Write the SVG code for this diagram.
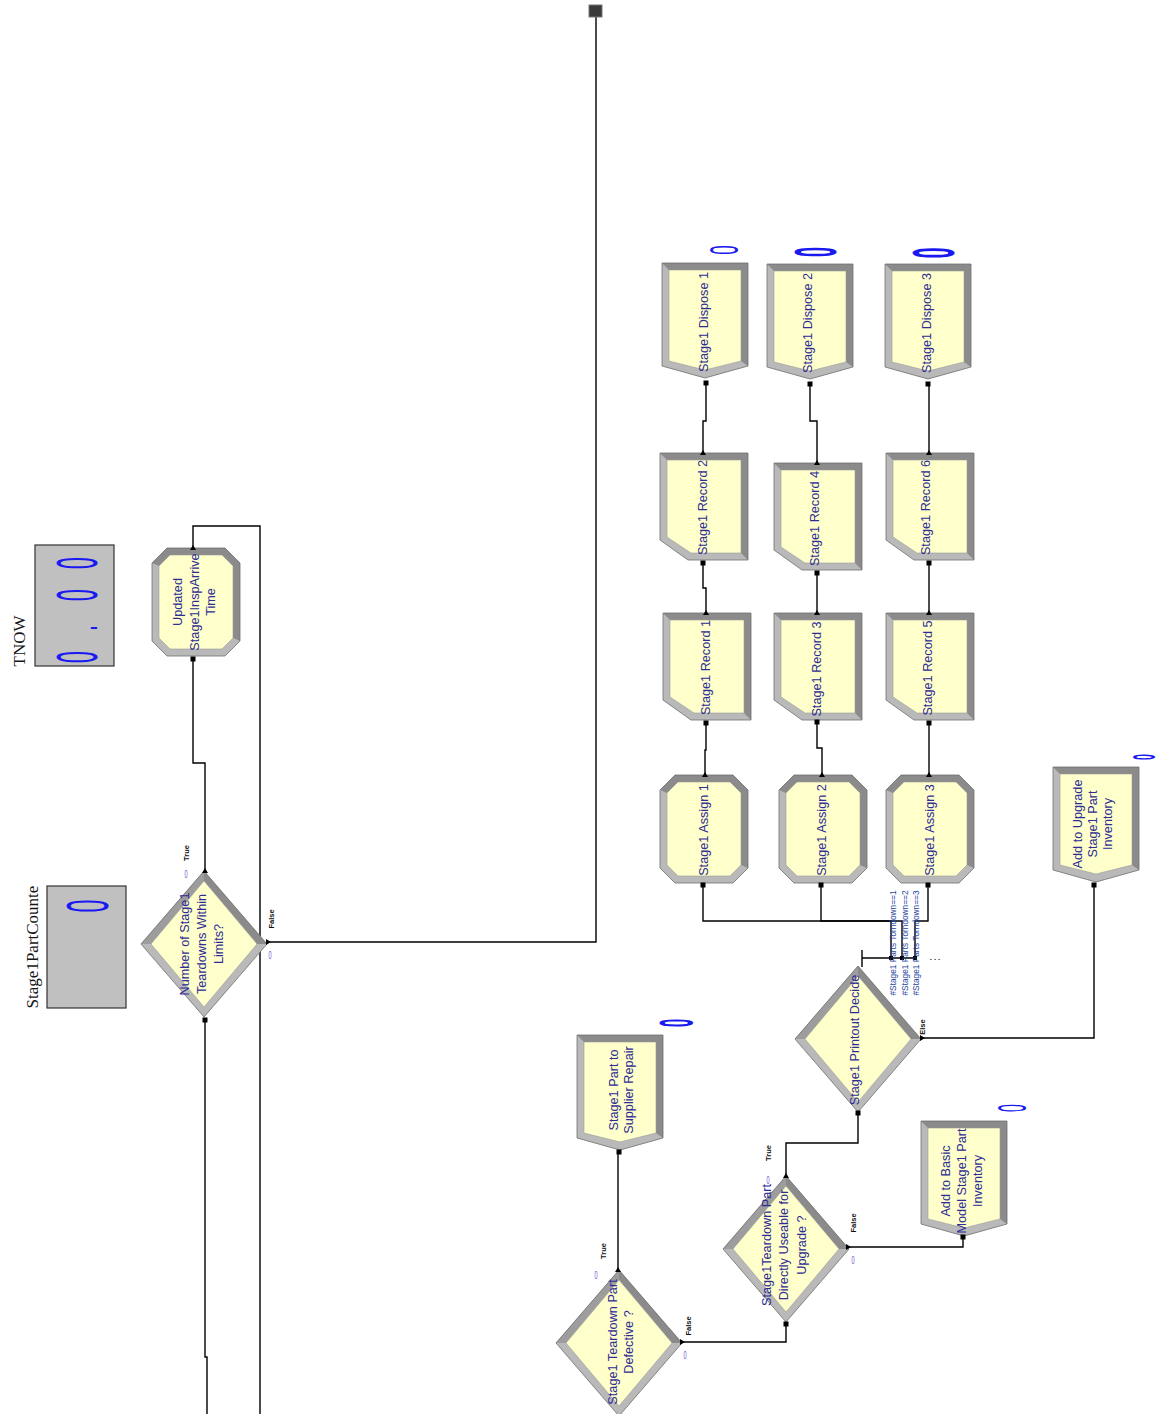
<svg xmlns="http://www.w3.org/2000/svg" width="1162" height="1414" viewBox="0 0 1162 1414">
<style>
 .lt{fill:#b9b9b9}
 .dk{fill:#8b8b8b}
 .md{fill:#9d9d9d}
 .in{fill:#ffffcc;stroke:#9a9a9a;stroke-width:.6}
 .ol{fill:none;stroke:#6f6f6f;stroke-width:.8}
 .lbl{font-family:"Liberation Sans",Arial,sans-serif;font-size:12.7px;fill:#2d2d94;text-anchor:middle;dominant-baseline:central}
 .tag{font-family:"Liberation Sans",Arial,sans-serif;font-size:7.5px;font-weight:bold;fill:#111;text-anchor:middle;dominant-baseline:central}
 .cond{font-family:"Liberation Sans",Arial,sans-serif;font-size:8.3px;fill:#24449c;text-anchor:middle;dominant-baseline:central}
 .cnt{font-family:"Liberation Sans",Arial,sans-serif;fill:#1a1af0;text-anchor:middle;dominant-baseline:central}
 .sc{font-family:"Liberation Sans",Arial,sans-serif;font-size:11px;fill:#6a4fd0;text-anchor:middle;dominant-baseline:central}
 .var{font-family:"Liberation Serif","Times New Roman",serif;font-size:17px;fill:#151515;text-anchor:middle;dominant-baseline:central}
 .box{fill:#c0c0c0;stroke:#333;stroke-width:1.2}
 .wire{fill:none;stroke:#000;stroke-width:1.4}
 .pt{fill:#000}
</style>
<defs>
 <!-- Assign: bevelled octagon, 88 x 108 -->
 <g id="assignShape">
  <polygon class="lt" points="15,0 73,0 88,15 88,93 73,108 15,108 0,93 0,15"/>
  <polygon class="dk" points="0,15 15,0 73,0 88,15 88,93 81,90 81,18 70,7 18,7 7,18"/>
  <polygon class="in" points="18,7 70,7 81,18 81,90 70,101 18,101 7,90 7,18"/>
  <polygon class="ol" points="15,0 73,0 88,15 88,93 73,108 15,108 0,93 0,15"/>
 </g>
 <!-- Record: box with clipped corner, 88 x 107 -->
 <g id="recordShape">
  <polygon class="lt" points="0,0 88,0 88,107 28,107 0,87"/>
  <polygon class="dk" points="0,0 88,0 88,107 81,100 81,7 7,7"/>
  <polygon class="in" points="7,7 81,7 81,100 31,100 7,84"/>
  <polygon class="ol" points="0,0 88,0 88,107 28,107 0,87"/>
 </g>
 <!-- Dispose: pennant pointing down, 86 x 115 -->
 <g id="disposeShape">
  <polygon class="lt" points="0,0 86,0 86,103 43,115 0,103"/>
  <polygon class="dk" points="0,0 86,0 86,103 79,98 79,7 7,7"/>
  <polygon class="in" points="7,7 79,7 79,98 43,107 7,98"/>
  <polygon class="ol" points="0,0 86,0 86,103 43,115 0,103"/>
 </g>
 <!-- Decide: diamond, 126 x 146 -->
 <g id="decideShape">
  <polygon class="lt" points="63,0 126,73 63,146 0,73"/>
  <polygon class="dk" points="63,0 126,73 116,73 63,10"/>
  <polygon class="md" points="63,0 63,10 10,73 0,73"/>
  <polygon class="in" points="63,10 116,73 63,136 10,73"/>
  <polygon class="ol" points="63,0 126,73 63,146 0,73"/>
 </g>
 <rect id="entry" class="pt" x="-2.5" y="-2.5" width="5" height="5"/>
 <path id="exitUp" class="pt" d="M-3,2 L0,-3 L3,2 Z"/>
 <path id="exitRight" class="pt" d="M-2,-3 L3,0 L-2,3 Z"/>
</defs>

<rect width="1162" height="1414" fill="#ffffff"/>

<!-- connectors -->
<g id="connectors">
 <polyline class="wire" points="268,942 596,942 596,17"/>
 <polyline class="wire" points="205,871 205,763 193,763 193,657"/>
 <polyline class="wire" points="193,547 193,526 260,526 260,1414"/>
 <polyline class="wire" points="205,1018 205,1357 207,1357 207,1414"/>

 <polyline class="wire" points="705,775 705,750 706,750 706,722"/>
 <polyline class="wire" points="706,612 706,588 703,588 703,562"/>
 <polyline class="wire" points="703,452 703,421 706,421 706,383"/>

 <polyline class="wire" points="822,775 822,748 817,748 817,722"/>
 <polyline class="wire" points="817,613 817,572"/>
 <polyline class="wire" points="817,462 817,421 810,421 810,383"/>

 <polyline class="wire" points="929,775 929,722"/>
 <polyline class="wire" points="929,613 929,562"/>
 <polyline class="wire" points="929,452 929,383"/>

 <polyline class="wire" points="891,958 891,921 703,921 703,885"/>
 <polyline class="wire" points="902,958 902,921 821,921 821,885"/>
 <polyline class="wire" points="915,958 915,921 928,921 928,885"/>
 <polyline class="wire" points="862,958 915,958"/>
 <polyline class="wire" points="862,950 862,967"/>

 <polyline class="wire" points="922,1038 1094,1038 1094,885"/>
 <polyline class="wire" points="786,1175 786,1143 858,1143 858,1112"/>
 <polyline class="wire" points="848,1247 963,1247 963,1237"/>
 <polyline class="wire" points="618,1270 618,1152"/>
 <polyline class="wire" points="682,1342 786,1342 786,1323"/>
</g>

<!-- station marker at the top -->
<g id="station">
 <rect x="589" y="5" width="13" height="12" fill="#3a3a3a" stroke="#777" stroke-width="1"/>
</g>

<!-- variables -->
<g id="var-tnow">
 <rect class="box" x="35" y="545" width="79" height="121"/>
 <text class="cnt" font-size="58" x="0 79 169 256" transform="translate(76,657) rotate(-90) scale(0.367,1)">0.00</text>
 <text class="var" transform="translate(19,641) rotate(-90)">TNOW</text>
</g>
<g id="var-partcount">
 <rect class="box" x="47" y="886" width="79" height="122"/>
 <text class="cnt" font-size="58.6" transform="translate(87.5,906) rotate(-90) scale(0.4,1)">0</text>
 <text class="var" transform="translate(32,947) rotate(-90)">Stage1PartCounte</text>
</g>

<!-- Updated Stage1InspArrive Time -->
<g id="updated-arrive">
 <use href="#assignShape" x="152" y="548"/>
 <text class="lbl" transform="translate(194.5,602) rotate(-90)"><tspan x="0" y="-16.5">Updated</tspan><tspan x="0" y="0">Stage1InspArrive</tspan><tspan x="0" y="16.5">Time</tspan></text>
 <use href="#exitUp" x="193" y="548"/>
 <use href="#entry" x="193" y="659"/>
</g>

<!-- Number of Stage1 Teardowns Within Limits? -->
<g id="decide-limits">
 <use href="#decideShape" x="141" y="871"/>
 <text class="lbl" transform="translate(202,944) rotate(-90)"><tspan x="0" y="-17">Number of Stage1</tspan><tspan x="0" y="0">Teardowns Within</tspan><tspan x="0" y="17">Limits?</tspan></text>
 <use href="#exitUp" x="205" y="871"/>
 <use href="#exitRight" x="268" y="942"/>
 <use href="#entry" x="205" y="1020"/>
 <text class="tag" transform="translate(186.5,853) rotate(-90)">True</text>
 <text class="sc" transform="translate(186,874) scale(0.5,1)">0</text>
 <text class="tag" transform="translate(271.5,919) rotate(-90)">False</text>
 <text class="sc" transform="translate(270,955) scale(0.5,1)">0</text>
</g>

<!-- dispose column heads -->
<g id="dispose-1">
 <use href="#disposeShape" x="662" y="263"/>
 <text class="lbl" transform="translate(703.5,322) rotate(-90)">Stage1 Dispose 1</text>
 <text class="cnt" font-size="40.5" transform="translate(724,250) rotate(-90) scale(0.42,1)">0</text>
 <use href="#entry" x="706" y="383"/>
</g>
<g id="dispose-2">
 <use href="#disposeShape" x="767" y="264"/>
 <text class="lbl" transform="translate(807.5,323) rotate(-90)">Stage1 Dispose 2</text>
 <text class="cnt" font-size="60" font-weight="bold" transform="translate(815.5,252) rotate(-90) scale(0.3,1)">0</text>
 <use href="#entry" x="810" y="384"/>
</g>
<g id="dispose-3">
 <use href="#disposeShape" x="885" y="264"/>
 <text class="lbl" transform="translate(926.5,323) rotate(-90)">Stage1 Dispose 3</text>
 <text class="cnt" font-size="58.6" font-weight="bold" transform="translate(934,253) rotate(-90) scale(0.33,1)">0</text>
 <use href="#entry" x="928" y="384"/>
</g>

<!-- records, upper row -->
<g id="record-2">
 <use href="#recordShape" x="660" y="453"/>
 <text class="lbl" transform="translate(702.5,507.5) rotate(-90)">Stage1 Record 2</text>
 <use href="#exitUp" x="703" y="453"/>
 <use href="#entry" x="703" y="563"/>
</g>
<g id="record-4">
 <use href="#recordShape" x="774" y="463"/>
 <text class="lbl" transform="translate(814.5,518.5) rotate(-90)">Stage1 Record 4</text>
 <use href="#exitUp" x="817" y="463"/>
 <use href="#entry" x="817" y="573"/>
</g>
<g id="record-6">
 <use href="#recordShape" x="886" y="453"/>
 <text class="lbl" transform="translate(925.5,507.5) rotate(-90)">Stage1 Record 6</text>
 <use href="#exitUp" x="929" y="453"/>
 <use href="#entry" x="929" y="563"/>
</g>

<!-- records, lower row -->
<g id="record-1">
 <use href="#recordShape" x="663" y="613"/>
 <text class="lbl" transform="translate(705.5,667.5) rotate(-90)">Stage1 Record 1</text>
 <use href="#exitUp" x="706" y="613"/>
 <use href="#entry" x="706" y="723"/>
</g>
<g id="record-3">
 <use href="#recordShape" x="774" y="613"/>
 <text class="lbl" transform="translate(816.5,669) rotate(-90)">Stage1 Record 3</text>
 <use href="#exitUp" x="817" y="613"/>
 <use href="#entry" x="817" y="722"/>
</g>
<g id="record-5">
 <use href="#recordShape" x="886" y="613"/>
 <text class="lbl" transform="translate(927.5,668) rotate(-90)">Stage1 Record 5</text>
 <use href="#exitUp" x="929" y="613"/>
 <use href="#entry" x="929" y="723"/>
</g>

<!-- assigns -->
<g id="assign-1">
 <use href="#assignShape" x="660" y="775"/>
 <text class="lbl" transform="translate(703.5,830) rotate(-90)">Stage1 Assign 1</text>
 <use href="#exitUp" x="705" y="775"/>
 <use href="#entry" x="703" y="885"/>
</g>
<g id="assign-2">
 <use href="#assignShape" x="779" y="775"/>
 <text class="lbl" transform="translate(821.5,830) rotate(-90)">Stage1 Assign 2</text>
 <use href="#exitUp" x="822" y="775"/>
 <use href="#entry" x="821" y="885"/>
</g>
<g id="assign-3">
 <use href="#assignShape" x="886" y="775"/>
 <text class="lbl" transform="translate(929.5,830) rotate(-90)">Stage1 Assign 3</text>
 <use href="#exitUp" x="929" y="775"/>
 <use href="#entry" x="928" y="885"/>
</g>

<!-- Stage1 Printout Decide (by condition) -->
<g id="printout-decide">
 <use href="#decideShape" x="795" y="966"/>
 <text class="lbl" transform="translate(855,1040) rotate(-90)">Stage1 Printout Decide</text>
 <use href="#entry" x="858" y="1113"/>
 <use href="#exitRight" x="922" y="1038"/>
 <rect class="pt" x="889" y="956" width="4" height="4"/>
 <rect class="pt" x="900" y="956" width="4" height="4"/>
 <rect class="pt" x="913" y="956" width="4" height="4"/>
 <text class="cond" transform="translate(892.5,943) rotate(-90)">#Stage1 Parts Torndown==1</text>
 <text class="cond" transform="translate(904.5,943) rotate(-90)">#Stage1 Parts Torndown==2</text>
 <text class="cond" transform="translate(915.5,943) rotate(-90)">#Stage1 Parts Torndown==3</text>
 <text class="tag" x="935" y="957" font-size="9">. . .</text>
 <text class="tag" transform="translate(922,1027) rotate(-90)">Else</text>
</g>

<!-- Add to Upgrade Stage1 Part Inventory -->
<g id="upgrade-inventory">
 <use href="#disposeShape" x="1053" y="767"/>
 <text class="lbl" transform="translate(1093,824) rotate(-90)"><tspan x="0" y="-15">Add to Upgrade</tspan><tspan x="0" y="0">Stage1 Part</tspan><tspan x="0" y="15">Inventory</tspan></text>
 <text class="cnt" font-size="31" font-weight="bold" transform="translate(1144,757) rotate(-90) scale(0.34,1)">0</text>
 <use href="#entry" x="1094" y="885"/>
</g>

<!-- Stage1 Part to Supplier Repair -->
<g id="supplier-repair">
 <use href="#disposeShape" x="577" y="1035"/>
 <text class="lbl" transform="translate(621,1090) rotate(-90)"><tspan x="0" y="-7.5">Stage1 Part to</tspan><tspan x="0" y="7.5">Supplier Repair</tspan></text>
 <text class="cnt" font-size="49" font-weight="bold" transform="translate(676,1023) rotate(-90) scale(0.3,1)">0</text>
 <use href="#entry" x="619" y="1152"/>
</g>

<!-- Stage1 Teardown Part Defective ? -->
<g id="decide-defective">
 <use href="#decideShape" x="556" y="1270"/>
 <text class="lbl" transform="translate(620.5,1342) rotate(-90)"><tspan x="0" y="-8">Stage1 Teardown Part</tspan><tspan x="0" y="8">Defective ?</tspan></text>
 <use href="#exitUp" x="618" y="1270"/>
 <use href="#exitRight" x="682" y="1342"/>
 <text class="tag" transform="translate(603,1251) rotate(-90)">True</text>
 <text class="sc" transform="translate(596,1275) scale(0.5,1)">0</text>
 <text class="tag" transform="translate(688,1326) rotate(-90)">False</text>
 <text class="sc" transform="translate(685,1355) scale(0.5,1)">0</text>
</g>

<!-- Stage1Teardown Part Directly Useable for Upgrade ? -->
<g id="decide-useable">
 <use href="#decideShape" x="723" y="1176"/>
 <text class="lbl" transform="translate(784,1245) rotate(-90)"><tspan x="0" y="-17.5">Stage1Teardown Part</tspan><tspan x="0" y="0">Directly Useable for</tspan><tspan x="0" y="17.5">Upgrade ?</tspan></text>
 <use href="#exitUp" x="786" y="1176"/>
 <use href="#exitRight" x="848" y="1247"/>
 <use href="#entry" x="786" y="1324"/>
 <text class="tag" transform="translate(768,1153) rotate(-90)">True</text>
 <text class="sc" transform="translate(768,1180) scale(0.5,1)">0</text>
 <text class="tag" transform="translate(853,1223) rotate(-90)">False</text>
 <text class="sc" transform="translate(853,1260) scale(0.5,1)">0</text>
</g>

<!-- Add to Basic Model Stage1 Part Inventory -->
<g id="basic-inventory">
 <use href="#disposeShape" x="921" y="1121"/>
 <text class="lbl" transform="translate(962,1181) rotate(-90)"><tspan x="0" y="-16">Add to Basic</tspan><tspan x="0" y="0">Model Stage1 Part</tspan><tspan x="0" y="16">Inventory</tspan></text>
 <text class="cnt" font-size="40" transform="translate(1012,1108) rotate(-90) scale(0.35,1)">0</text>
 <use href="#entry" x="963" y="1237"/>
</g>
</svg>
